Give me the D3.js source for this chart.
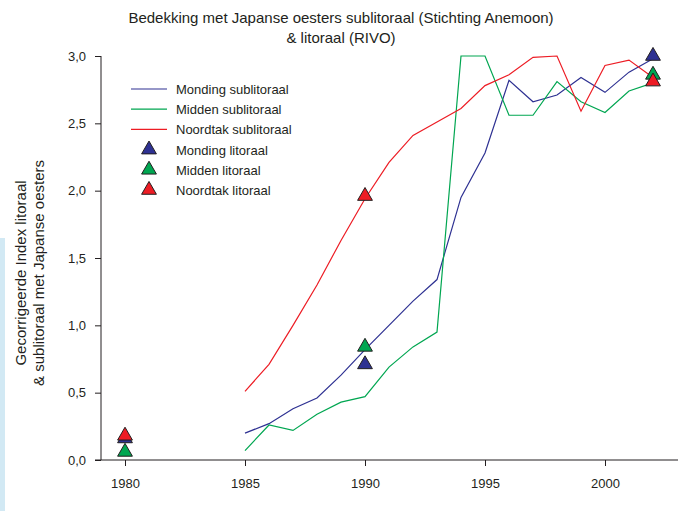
<!DOCTYPE html>
<html>
<head>
<meta charset="utf-8">
<script src="https://cdn.jsdelivr.net/npm/d3@7/dist/d3.min.js"></script>
<style>
  html, body { margin: 0; padding: 0; background: #fff; }
  text { font-family: Arial, "Liberation Sans", sans-serif; fill: #231f20; }
</style>
</head>
<body>
<svg id="chart" width="683" height="511"></svg>
<script>
// ---- data ----
const years = [1985, 1986, 1987, 1988, 1989, 1990, 1991, 1992, 1993, 1994, 1995, 1996, 1997, 1998, 1999, 2000, 2001, 2002];
const mondingSub  = [0.20, 0.27, 0.38, 0.46, 0.63, 0.82, 1.00, 1.18, 1.34, 1.95, 2.28, 2.82, 2.66, 2.71, 2.84, 2.73, 2.88, 2.98];
const middenSub   = [0.07, 0.26, 0.22, 0.34, 0.43, 0.47, 0.69, 0.84, 0.95, 3.00, 3.00, 2.56, 2.56, 2.81, 2.66, 2.58, 2.74, 2.80];
const noordtakSub = [0.51, 0.71, 1.00, 1.30, 1.63, 1.94, 2.21, 2.41, 2.51, 2.61, 2.78, 2.86, 2.99, 3.00, 2.59, 2.93, 2.97, 2.84];
const litYears    = [1980, 1990, 2002];
const mondingLit  = [0.16, 0.71, 3.00];
const middenLit   = [0.06, 0.84, 2.86];
const noordtakLit = [0.18, 1.96, 2.81];
const xTicks = [1980, 1985, 1990, 1995, 2000];
const yTicks = [0, 0.5, 1.0, 1.5, 2.0, 2.5, 3.0];
const titleLines = ["Bedekking met Japanse oesters sublitoraal (Stichting Anemoon)", "& litoraal (RIVO)"];
const yTitleLines = ["Gecorrigeerde Index litoraal", "& sublitoraal met Japanse oesters"];

const blue = "#2e3192", green = "#00a651", red = "#ed1c24", dark = "#231f20";

const svg = d3.select("#chart");

// light blue strip at the left edge
svg.append("rect").attr("x", 0).attr("y", 238).attr("width", 5).attr("height", 273).attr("fill", "#d2e9f4");

const x = d3.scaleLinear().domain([1980, 2002]).range([125, 653]);
const y = d3.scaleLinear().domain([0, 3]).range([460, 56]);

// title
svg.append("g").selectAll("text").data(titleLines).join("text")
  .attr("x", 341).attr("y", (d, i) => 23 + i * 20)
  .attr("text-anchor", "middle").style("font-size", "15px").text(d => d);

// y title
svg.append("g").selectAll("text").data(yTitleLines).join("text")
  .attr("transform", (d, i) => `translate(${26 + i * 17.5},273) rotate(-90)`)
  .attr("text-anchor", "middle").style("font-size", "15px").text(d => d);

// axes
const fmt = d3.format(".1f");
const yAxis = svg.append("g").attr("transform", "translate(101,0)")
  .call(d3.axisLeft(y).tickValues(yTicks).tickSize(6).tickPadding(9).tickFormat(d => fmt(d).replace(".", ",")));
const xAxis = svg.append("g").attr("transform", "translate(0,460)")
  .call(d3.axisBottom(x).tickValues(xTicks).tickSize(6).tickPadding(13).tickFormat(d3.format("d")));
[yAxis, xAxis].forEach(a => {
  a.select(".domain").remove();
  a.selectAll("line").attr("stroke", dark);
  a.selectAll("text").style("font-size", "13px").attr("fill", dark);
});
// axis lines
svg.append("line").attr("x1", 101).attr("x2", 101).attr("y1", y(3)).attr("y2", y(0)).attr("stroke", dark);
svg.append("line").attr("x1", 95).attr("x2", 678).attr("y1", y(0)).attr("y2", y(0)).attr("stroke", dark);

// lines
const line = d3.line().x((d, i) => x(years[i])).y(d => y(d));
[[mondingSub, blue], [middenSub, green], [noordtakSub, red]].forEach(([vals, c]) => {
  svg.append("path").datum(vals).attr("d", line).attr("fill", "none")
    .attr("stroke", c).attr("stroke-width", 1.2).attr("stroke-linejoin", "miter");
});

// triangles
const tri = d3.symbol().type(d3.symbolTriangle).size(95);
[[mondingLit, blue], [middenLit, green], [noordtakLit, red]].forEach(([vals, c]) => {
  svg.append("g").selectAll("path").data(vals).join("path")
    .attr("d", tri)
    .attr("transform", (d, i) => `translate(${x(litYears[i])},${y(d)})`)
    .attr("fill", c).attr("stroke", dark).attr("stroke-width", 1);
});

// legend
const legendItems = [
  { label: "Monding sublitoraal", color: blue, type: "line" },
  { label: "Midden sublitoraal", color: green, type: "line" },
  { label: "Noordtak sublitoraal", color: red, type: "line" },
  { label: "Monding litoraal", color: blue, type: "tri" },
  { label: "Midden litoraal", color: green, type: "tri" },
  { label: "Noordtak litoraal", color: red, type: "tri" }
];
const lg = svg.append("g").selectAll("g").data(legendItems).join("g")
  .attr("transform", (d, i) => `translate(0,${89 + i * 20.2})`);
lg.filter(d => d.type === "line").append("line")
  .attr("x1", 131).attr("x2", 167).attr("y1", 0).attr("y2", 0)
  .attr("stroke", d => d.color).attr("stroke-width", 1.2);
lg.filter(d => d.type === "tri").append("path")
  .attr("d", tri).attr("transform", "translate(149,0)")
  .attr("fill", d => d.color).attr("stroke", dark).attr("stroke-width", 1);
lg.append("text").attr("x", 176).attr("y", 5).style("font-size", "13px").text(d => d.label);
</script>
</body>
</html>
